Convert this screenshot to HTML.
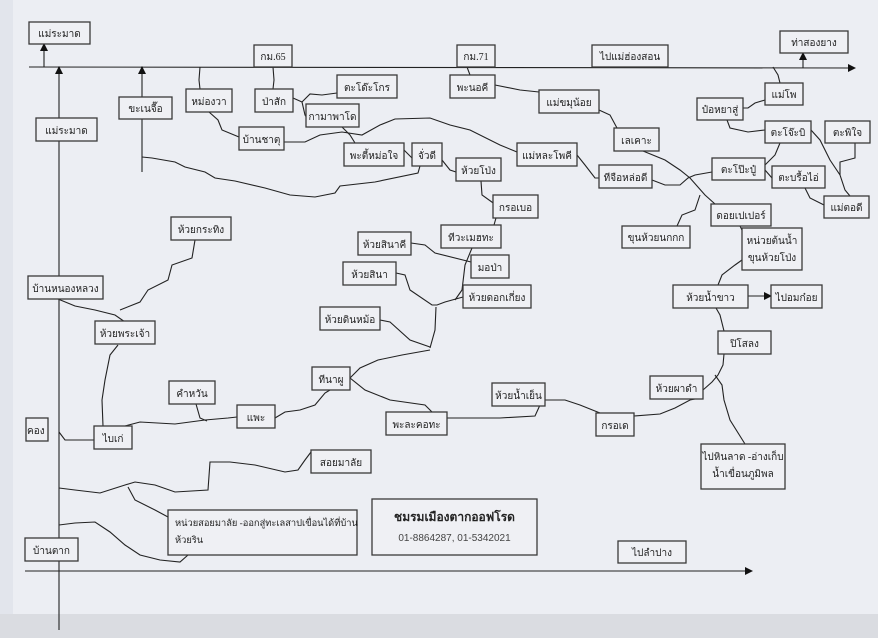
<!DOCTYPE html>
<html><head><meta charset="utf-8"><style>
html,body{margin:0;padding:0;background:#eceef3;}
svg{display:block;}
text{font-family:"Liberation Serif","Noto Sans CJK SC",serif;font-size:10px;fill:#222;}
.b{fill:#eff0f4;stroke:#3a3a3a;stroke-width:1.3;}
.l{fill:none;stroke:#222;stroke-width:1.1;}
</style></head><body>
<svg width="878" height="638" viewBox="0 0 878 638" xmlns="http://www.w3.org/2000/svg">
<defs><marker id="a" markerWidth="8" markerHeight="8" refX="7" refY="4" orient="auto" markerUnits="userSpaceOnUse"><path d="M0,0 L8,4 L0,8z" fill="#111"/></marker></defs>
<rect x="0" y="0" width="878" height="638" fill="#eceef3"/>
<rect x="0" y="0" width="13" height="638" fill="#e2e5ec"/>
<rect x="0" y="614" width="878" height="24" fill="#dadce1"/>

<line class="l" x1="29" y1="67" x2="855" y2="68" stroke-width="1.4" marker-end="url(#a)"/>
<line class="l" x1="25" y1="571" x2="752" y2="571" stroke-width="1.4" marker-end="url(#a)"/>
<line class="l" x1="59" y1="630" x2="59" y2="67" marker-end="url(#a)"/>
<line class="l" x1="44" y1="67" x2="44" y2="44" marker-end="url(#a)"/>
<line class="l" x1="142" y1="172" x2="142" y2="67" marker-end="url(#a)"/>
<line class="l" x1="803" y1="68" x2="803" y2="53" marker-end="url(#a)"/>
<line class="l" x1="748" y1="296" x2="771" y2="296" marker-end="url(#a)"/>

<g class="l">
<path d="M200,67 L199,80 L200,89"/>
<path d="M209,112 L218,120 L222,130 L239,137"/>
<path d="M284,142 L305,142 L320,135 L342,132 L362,135 L380,125 L395,119 L430,118 L450,125 L470,130 L500,145 L517,152"/>
<path d="M273,67 L274,80 L273,89"/>
<path d="M293,98 L302,102 L310,94 L322,95 L337,93"/>
<path d="M302,102 L305,115 L307,118"/>
<path d="M342,127 L350,135 L355,143"/>
<path d="M404,150 L412,158"/>
<path d="M142,157 L152,158 L175,162 L185,167 L205,172 L215,178 L235,181 L265,188 L290,195 L315,197 L335,193 L340,186 L375,182 L418,173 L420,166"/>
<path d="M442,160 L450,170 L456,172"/>
<path d="M481,181 L482,195 L496,205"/>
<path d="M496,218 L494,225"/>
<path d="M472,248 L465,265 L462,290 L455,300"/>
<path d="M411,243 L425,245 L435,253 L471,262"/>
<path d="M396,273 L405,275 L410,290 L432,305 L437,305 L445,302 L463,297"/>
<path d="M436,307 L435,330 L430,348"/>
<path d="M380,320 L390,322 L410,340 L430,347"/>
<path d="M350,378 L360,368 L378,360 L402,355 L430,350"/>
<path d="M350,378 L365,390 L390,400 L425,405 L433,413"/>
<path d="M447,418 L500,418 L535,416 L540,405"/>
<path d="M545,400 L565,400 L580,405 L600,413"/>
<path d="M634,416 L660,414 L675,408 L690,400 L700,398"/>
<path d="M703,390 L712,382 L718,375 L723,365 L724,354"/>
<path d="M715,375 L722,385 L724,400 L730,420 L745,444"/>
<path d="M724,331 L720,315 L716,308"/>
<path d="M718,285 L722,275 L735,265 L742,260"/>
<path d="M742,230 L740,226"/>
<path d="M643,151 L665,160 L680,170 L690,178 L705,195 L715,204"/>
<path d="M652,180 L665,185 L680,185 L688,178 L695,175 L712,172"/>
<path d="M677,226 L682,215 L695,210 L700,195"/>
<path d="M577,155 L585,165 L595,178 L599,178"/>
<path d="M467,67 L470,75"/>
<path d="M495,85 L520,90 L539,92"/>
<path d="M599,110 L610,115 L617,128"/>
<path d="M773,67 L778,75 L780,83"/>
<path d="M765,100 L755,103 L748,108 L743,108"/>
<path d="M727,120 L730,128 L748,132 L765,130"/>
<path d="M780,143 L775,155 L765,165"/>
<path d="M811,130 L820,140 L830,160 L840,175 L845,190 L850,196"/>
<path d="M855,143 L855,158 L840,162 L840,175"/>
<path d="M805,188 L810,198 L824,205"/>
<path d="M765,170 L772,178"/>
<path d="M195,240 L192,258 L172,265 L168,280 L148,290 L140,302 L120,310"/>
<path d="M58,299 L75,306 L95,310 L115,315 L125,322"/>
<path d="M118,345 L110,355 L105,380 L102,400 L103,426"/>
<path d="M125,426 L140,422 L175,424 L205,420 L228,418 L237,417"/>
<path d="M196,404 L200,418 L207,421"/>
<path d="M275,418 L285,412 L300,410 L315,405 L325,393 L330,390"/>
<path d="M94,440 L65,440 L59,432"/>
<path d="M311,452 L305,460 L298,470 L285,472 L255,465 L230,462 L210,462 L208,490 L175,492 L155,485 L135,482 L125,485 L100,493 L75,490 L59,488"/>
<path d="M128,487 L135,500 L155,510 L168,517"/>
<path d="M59,525 L75,523 L95,522 L110,532 L125,545 L140,555 L160,560 L180,562 L188,555"/>
</g>

<g>
<rect class="b" x="29" y="22" width="61" height="22"/><text x="59.5" y="37" text-anchor="middle">แม่ระมาด</text>
<rect class="b" x="254" y="45" width="38" height="22"/><text x="273" y="60" text-anchor="middle">กม.65</text>
<rect class="b" x="457" y="45" width="38" height="22"/><text x="476" y="60" text-anchor="middle">กม.71</text>
<rect class="b" x="592" y="45" width="76" height="22"/><text x="630" y="60" text-anchor="middle">ไปแม่ฮ่องสอน</text>
<rect class="b" x="780" y="31" width="68" height="22"/><text x="814" y="46" text-anchor="middle">ท่าสองยาง</text>
<rect class="b" x="119" y="97" width="53" height="22"/><text x="145.5" y="112" text-anchor="middle">ขะเนจื๊อ</text>
<rect class="b" x="36" y="118" width="61" height="23"/><text x="66.5" y="134" text-anchor="middle">แม่ระมาด</text>
<rect class="b" x="186" y="89" width="46" height="23"/><text x="209" y="105" text-anchor="middle">หม่องวา</text>
<rect class="b" x="255" y="89" width="38" height="23"/><text x="274" y="105" text-anchor="middle">ป่าสัก</text>
<rect class="b" x="337" y="75" width="60" height="23"/><text x="367" y="91" text-anchor="middle">ตะโด๊ะโกร</text>
<rect class="b" x="306" y="104" width="53" height="23"/><text x="332.5" y="120" text-anchor="middle">กามาพาโด</text>
<rect class="b" x="239" y="127" width="45" height="23"/><text x="261.5" y="143" text-anchor="middle">บ้านชาตุ</text>
<rect class="b" x="344" y="143" width="60" height="23"/><text x="374" y="159" text-anchor="middle">พะตี้หม่อใจ</text>
<rect class="b" x="412" y="143" width="30" height="23"/><text x="427" y="159" text-anchor="middle">จั่วดี</text>
<rect class="b" x="450" y="75" width="45" height="23"/><text x="472.5" y="91" text-anchor="middle">พะนอคี</text>
<rect class="b" x="539" y="90" width="60" height="23"/><text x="569" y="106" text-anchor="middle">แม่ขมุน้อย</text>
<rect class="b" x="614" y="128" width="45" height="23"/><text x="636.5" y="144" text-anchor="middle">เลเคาะ</text>
<rect class="b" x="517" y="143" width="60" height="23"/><text x="547" y="159" text-anchor="middle">แม่หละโพคี</text>
<rect class="b" x="456" y="158" width="45" height="23"/><text x="478.5" y="174" text-anchor="middle">ห้วยโป่ง</text>
<rect class="b" x="599" y="165" width="53" height="23"/><text x="625.5" y="181" text-anchor="middle">ทีจือหล่อดี</text>
<rect class="b" x="493" y="195" width="45" height="23"/><text x="515.5" y="211" text-anchor="middle">กรอเบอ</text>
<rect class="b" x="441" y="225" width="60" height="23"/><text x="471" y="241" text-anchor="middle">ทีวะเมฮทะ</text>
<rect class="b" x="471" y="255" width="38" height="23"/><text x="490" y="271" text-anchor="middle">มอป่า</text>
<rect class="b" x="463" y="285" width="68" height="23"/><text x="497" y="301" text-anchor="middle">ห้วยดอกเกี่ยง</text>
<rect class="b" x="358" y="232" width="53" height="23"/><text x="384.5" y="248" text-anchor="middle">ห้วยสินาคี</text>
<rect class="b" x="343" y="262" width="53" height="23"/><text x="369.5" y="278" text-anchor="middle">ห้วยสินา</text>
<rect class="b" x="320" y="307" width="60" height="23"/><text x="350" y="323" text-anchor="middle">ห้วยดินหม้อ</text>
<rect class="b" x="171" y="217" width="60" height="23"/><text x="201" y="233" text-anchor="middle">ห้วยกระทิง</text>
<rect class="b" x="28" y="276" width="75" height="23"/><text x="65.5" y="292" text-anchor="middle">บ้านหนองหลวง</text>
<rect class="b" x="95" y="321" width="60" height="23"/><text x="125" y="337" text-anchor="middle">ห้วยพระเจ้า</text>
<rect class="b" x="169" y="381" width="46" height="23"/><text x="192" y="397" text-anchor="middle">คำหวัน</text>
<rect class="b" x="237" y="405" width="38" height="23"/><text x="256" y="421" text-anchor="middle">แพะ</text>
<rect class="b" x="312" y="367" width="38" height="23"/><text x="331" y="383" text-anchor="middle">ทีนาผู</text>
<rect class="b" x="386" y="412" width="61" height="23"/><text x="416.5" y="428" text-anchor="middle">พะละคอทะ</text>
<rect class="b" x="94" y="426" width="38" height="23"/><text x="113" y="442" text-anchor="middle">ไบเก่</text>
<rect class="b" x="26" y="418" width="22" height="23"/><text x="27" y="434">คอง</text>
<rect class="b" x="311" y="450" width="60" height="23"/><text x="341" y="466" text-anchor="middle">สอยมาลัย</text>
<rect class="b" x="168" y="510" width="189" height="45"/><text x="175" y="526" style="font-size:9.3px">หน่วยสอยมาลัย -ออกสู่ทะเลสาปเขื่อนได้ที่บ้าน</text><text x="175" y="543" style="font-size:9.3px">ห้วยริน</text>
<rect class="b" x="372" y="499" width="165" height="56"/><text x="454.5" y="521" text-anchor="middle" style="font-weight:bold;font-size:12px">ชมรมเมืองตากออฟโรด</text><text x="454.5" y="541" text-anchor="middle" style="font-family:'Liberation Sans',sans-serif;font-size:10px;fill:#444">01-8864287, 01-5342021</text>
<rect class="b" x="25" y="538" width="53" height="23"/><text x="51.5" y="554" text-anchor="middle">บ้านตาก</text>
<rect class="b" x="618" y="541" width="68" height="22"/><text x="652" y="556" text-anchor="middle">ไปลำปาง</text>
<rect class="b" x="492" y="383" width="53" height="23"/><text x="518.5" y="399" text-anchor="middle">ห้วยน้ำเย็น</text>
<rect class="b" x="596" y="413" width="38" height="23"/><text x="615" y="429" text-anchor="middle">กรอเด</text>
<rect class="b" x="650" y="376" width="53" height="23"/><text x="676.5" y="392" text-anchor="middle">ห้วยผาดำ</text>
<rect class="b" x="718" y="331" width="53" height="23"/><text x="744.5" y="347" text-anchor="middle">ปิโสลง</text>
<rect class="b" x="701" y="444" width="84" height="45"/><text x="743" y="460" text-anchor="middle">ไปหินลาด -อ่างเก็บ</text><text x="743" y="477" text-anchor="middle">น้ำเขื่อนภูมิพล</text>
<rect class="b" x="673" y="285" width="75" height="23"/><text x="710.5" y="301" text-anchor="middle">ห้วยน้ำขาว</text>
<rect class="b" x="771" y="285" width="51" height="23"/><text x="796.5" y="301" text-anchor="middle">ไปอมก๋อย</text>
<rect class="b" x="742" y="228" width="60" height="42"/><text x="772" y="244" text-anchor="middle">หน่วยต้นน้ำ</text><text x="772" y="261" text-anchor="middle">ขุนห้วยโป่ง</text>
<rect class="b" x="711" y="204" width="60" height="22"/><text x="741" y="219" text-anchor="middle">ดอยเปเปอร์</text>
<rect class="b" x="622" y="226" width="68" height="22"/><text x="656" y="241" text-anchor="middle">ขุนห้วยนกกก</text>
<rect class="b" x="712" y="158" width="53" height="22"/><text x="738.5" y="173" text-anchor="middle">ตะโป๊ะปู๋</text>
<rect class="b" x="772" y="166" width="53" height="22"/><text x="798.5" y="181" text-anchor="middle">ตะบรื้อไอ่</text>
<rect class="b" x="824" y="196" width="45" height="22"/><text x="846.5" y="211" text-anchor="middle">แม่ตอดี</text>
<rect class="b" x="765" y="121" width="46" height="22"/><text x="788" y="136" text-anchor="middle">ตะโจ๊ะบิ</text>
<rect class="b" x="825" y="121" width="45" height="22"/><text x="847.5" y="136" text-anchor="middle">ตะพิใจ</text>
<rect class="b" x="697" y="98" width="46" height="22"/><text x="720" y="113" text-anchor="middle">ป๋อหยาสู่</text>
<rect class="b" x="765" y="83" width="38" height="22"/><text x="784" y="98" text-anchor="middle">แม่โพ</text>
</g>
</svg>
</body></html>
